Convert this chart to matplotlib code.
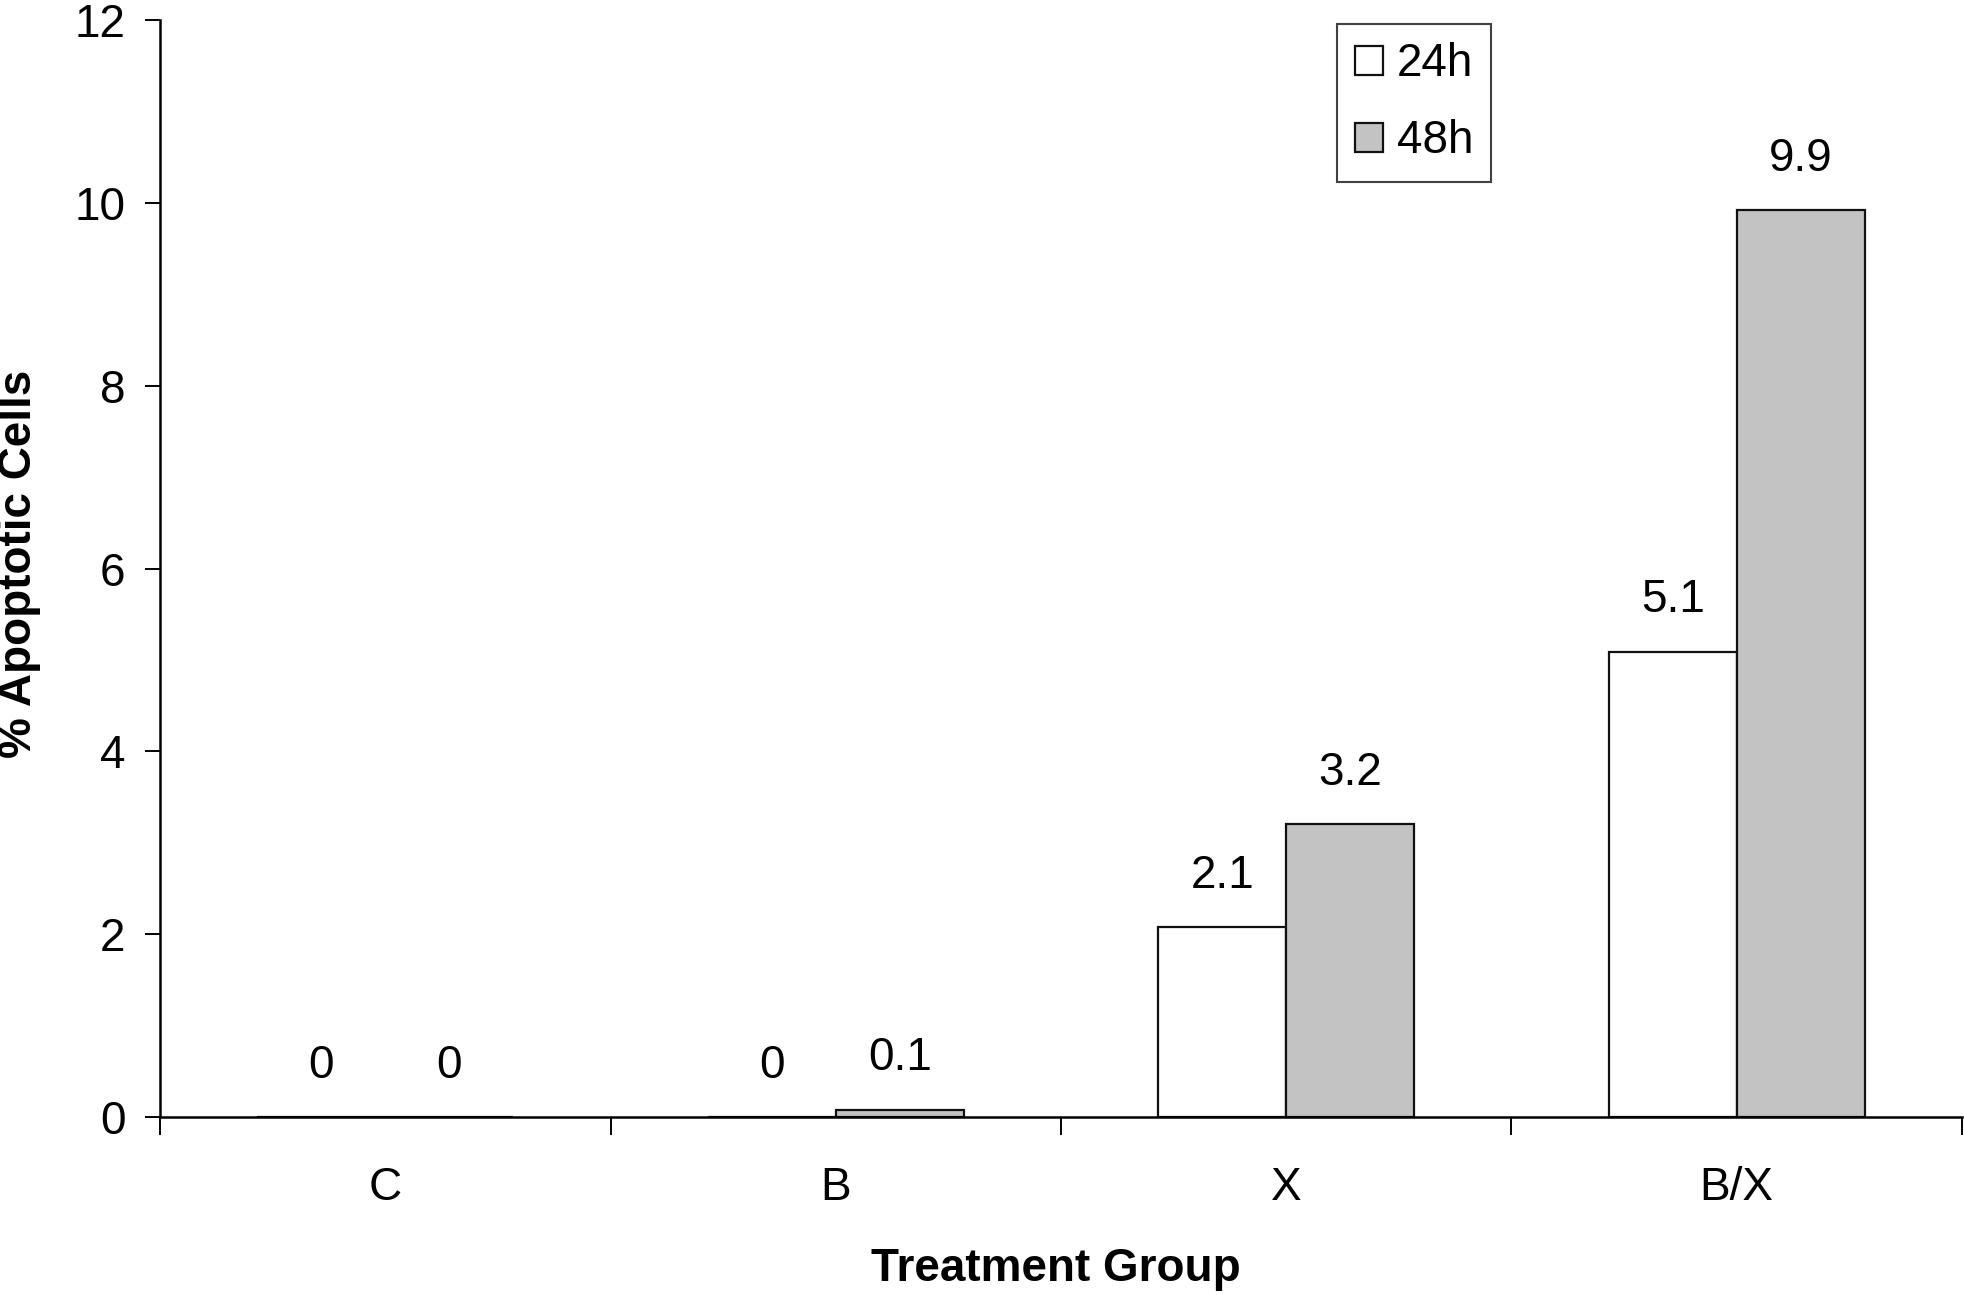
import numpy as np
import matplotlib.pyplot as plt
from matplotlib.ticker import FixedLocator, NullFormatter

plt.rcParams['font.family'] = ['Liberation Sans', 'DejaVu Sans']

# data
groups = ['C', 'B', 'X', 'B/X']
series = ['24h', '48h']
vals_24h = [0, 0, 2.08, 5.09]
vals_48h = [0, 0.08, 3.2, 9.92]
labels_24h = ['0', '0', '2.1', '5.1']
labels_48h = ['0', '0.1', '3.2', '9.9']

fs = 33
W, H = 1964, 1295
fig = plt.figure(figsize=(W / 100, H / 100), dpi=100)
ax = fig.add_axes([160 / W, 1 - 1117 / H, 1802 / W, 1097 / H])

x = np.arange(len(groups))
bw = 0.284
ax.bar(x - bw / 2, vals_24h, bw, color='white', edgecolor='#111111',
       linewidth=1.6, label=series[0], zorder=2)
ax.bar(x + bw / 2, vals_48h, bw, color='#c3c3c3', edgecolor='#111111',
       linewidth=1.6, label=series[1], zorder=2)

# value labels above the bars
for i in range(len(groups)):
    ax.text(x[i] - bw / 2, vals_24h[i] + 0.56, labels_24h[i],
            ha='center', va='center', fontsize=fs)
    ax.text(x[i] + bw / 2, vals_48h[i] + 0.56, labels_48h[i],
            ha='center', va='center', fontsize=fs)

ax.set_xlim(-0.5, len(groups) - 0.5)
ax.set_ylim(0, 12)
ax.set_yticks(range(0, 13, 2))

# category labels at centres, tick marks at the boundaries
ax.set_xticks(x)
ax.set_xticklabels(groups)
ax.xaxis.set_minor_locator(FixedLocator(np.arange(-0.5, len(groups), 1.0)))
ax.xaxis.set_minor_formatter(NullFormatter())
ax.tick_params(axis='x', which='major', length=0, pad=35, labelsize=fs)
ax.tick_params(axis='x', which='minor', length=13, width=1.4, direction='out')
ax.tick_params(axis='y', length=11, width=1.4, pad=14, labelsize=fs)

for s in ['top', 'right']:
    ax.spines[s].set_visible(False)
for s in ['left', 'bottom']:
    ax.spines[s].set_linewidth(1.8)
    ax.spines[s].set_zorder(3)

ax.set_xlabel('Treatment Group', fontsize=fs, fontweight='bold')
ax.set_ylabel('% Apoptotic Cells', fontsize=fs, fontweight='bold')
ax.xaxis.label.set_va('center')
ax.yaxis.label.set_va('center')
ax.xaxis.set_label_coords(0.497, -0.1386)
ax.yaxis.set_label_coords(-0.078, 0.504)

leg = ax.legend(loc='upper left', bbox_to_anchor=(1337 / W, 1 - 24 / H),
                bbox_transform=fig.transFigure, fontsize=fs, frameon=True,
                fancybox=False, borderaxespad=0, borderpad=0.4,
                handlelength=0.6, handleheight=0.6, handletextpad=0.3,
                labelspacing=0.72)
leg.get_frame().set_edgecolor('#111111')
leg.get_frame().set_linewidth(1.5)

fig.savefig('out.png', dpi=100)
